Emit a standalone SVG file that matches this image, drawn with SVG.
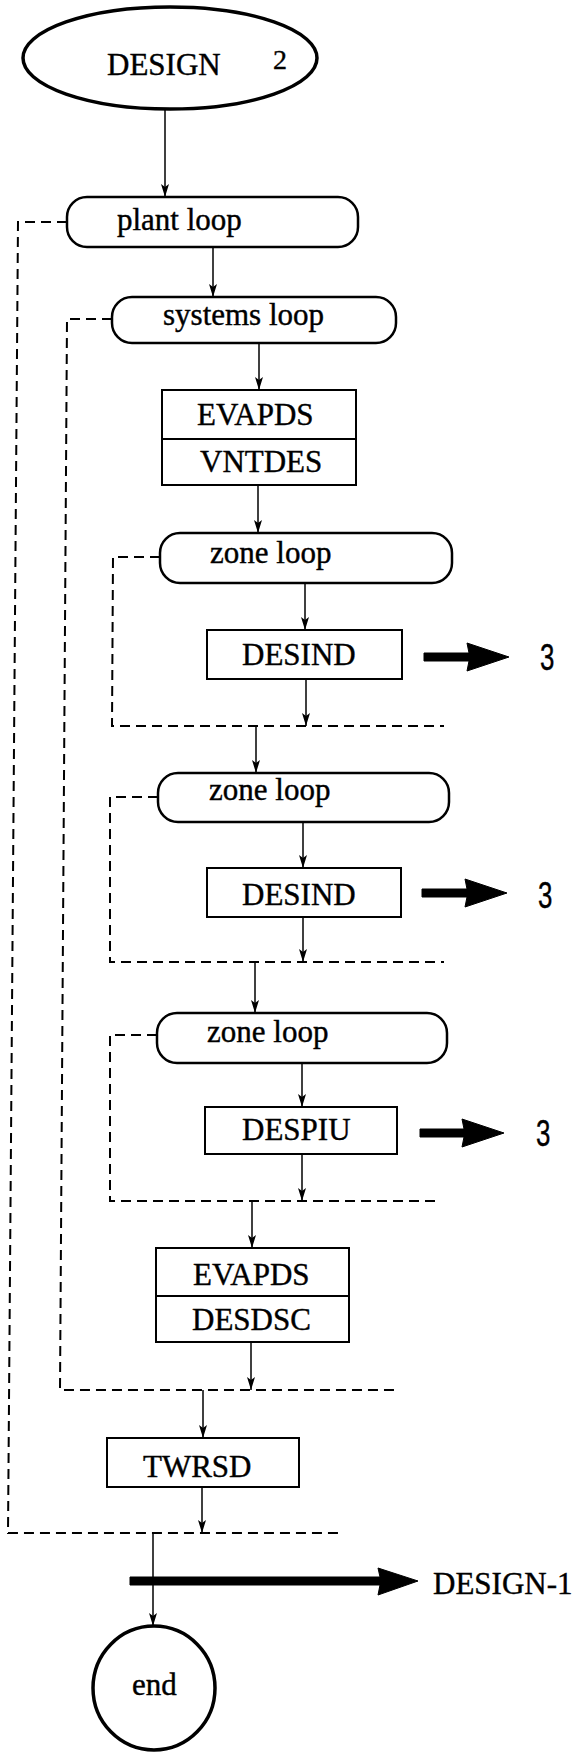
<svg xmlns="http://www.w3.org/2000/svg" width="584" height="1752" viewBox="0 0 584 1752">
<style>
  .t { font-family: "Liberation Serif", "Times New Roman", serif; font-size: 31px; fill: #000; stroke: #000; stroke-width: 0.4; }
  .n { font-family: "Liberation Sans", Arial, sans-serif; font-size: 37px; fill: #000; stroke: #000; stroke-width: 0.4; }
  .box { fill: #fff; stroke: #000; stroke-width: 2; }
  .loop { fill: #fff; stroke: #000; stroke-width: 2.5; }
  .term { fill: #fff; stroke: #000; stroke-width: 3.5; }
  .ln { fill: none; stroke: #000; stroke-width: 1.5; marker-end: url(#ah); }
  .dash { fill: none; stroke: #000; stroke-width: 2; stroke-dasharray: 10 6; }
  .fat { fill: #000; stroke: #000; stroke-width: 1; stroke-linejoin: round; }
</style>
<defs>
  <marker id="ah" markerUnits="userSpaceOnUse" markerWidth="14" markerHeight="10" refX="13" refY="4" orient="auto">
    <path d="M0,0 L13,4 L0,8 L3,4 z" fill="#000"/>
  </marker>
</defs>
<rect x="0" y="0" width="584" height="1752" fill="#fff"/>

<g id="connectors">
  <path class="dash" d="M67,222 L18,222 L8,1533 L342,1533"/>
  <path class="dash" d="M112,319 L67,319 L60,1390 L397,1390"/>
  <path class="dash" d="M160,557 L113,557 L112,726 L444,726"/>
  <path class="dash" d="M158,797 L110,797 L110,962 L444,962"/>
  <path class="dash" d="M157,1035 L110,1035 L110,1201 L441,1201"/>
  <line class="ln" x1="165" y1="110" x2="165" y2="197"/>
  <line class="ln" x1="213" y1="247" x2="213" y2="297"/>
  <line class="ln" x1="259" y1="343" x2="259" y2="390"/>
  <line class="ln" x1="258" y1="485" x2="258" y2="533"/>
  <line class="ln" x1="305" y1="583" x2="305" y2="630"/>
  <line class="ln" x1="306" y1="679" x2="306" y2="726"/>
  <line class="ln" x1="256" y1="726" x2="256" y2="773"/>
  <line class="ln" x1="303" y1="822" x2="303" y2="868"/>
  <line class="ln" x1="303" y1="917" x2="303" y2="962"/>
  <line class="ln" x1="255" y1="962" x2="255" y2="1013"/>
  <line class="ln" x1="302" y1="1062" x2="302" y2="1107"/>
  <line class="ln" x1="302" y1="1154" x2="302" y2="1201"/>
  <line class="ln" x1="252" y1="1201" x2="252" y2="1248"/>
  <line class="ln" x1="251" y1="1342" x2="251" y2="1390"/>
  <line class="ln" x1="203" y1="1390" x2="203" y2="1438"/>
  <line class="ln" x1="202" y1="1487" x2="202" y2="1533"/>
  <line class="ln" x1="153" y1="1533" x2="153" y2="1626"/>
  <path class="fat" d="M424,653 L469,653 L467,643 L509,657 L467,671 L469,661 L424,661 z"/>
  <path class="fat" d="M422,889 L467,889 L465,879 L507,893 L465,907 L467,897 L422,897 z"/>
  <path class="fat" d="M420,1129 L464,1129 L462,1119 L504,1133 L462,1147 L464,1137 L420,1137 z"/>
  <path class="fat" d="M130,1577 L380,1577 L378,1568 L418,1581 L378,1595 L380,1585 L130,1585 z"/>
</g>

<g id="design">
  <ellipse class="term" cx="170" cy="58" rx="147" ry="51"/>
  <text class="t" x="107" y="75">DESIGN</text>
  <text class="t" x="273" y="69" style="font-size:28px">2</text>
</g>
<g id="plant-loop">
  <rect class="loop" x="67" y="197" width="291" height="50" rx="20"/>
  <text class="t" x="117" y="230">plant loop</text>
</g>
<g id="systems-loop">
  <rect class="loop" x="112" y="297" width="284" height="46" rx="20"/>
  <text class="t" x="163" y="325">systems loop</text>
</g>
<g id="evapds-vntdes">
  <rect class="box" x="162" y="390" width="194" height="95"/>
  <line x1="162" y1="439" x2="356" y2="439" stroke="#000" stroke-width="2"/>
  <text class="t" x="197" y="425">EVAPDS</text>
  <text class="t" x="200" y="472">VNTDES</text>
</g>
<g id="zone-loop-1">
  <rect class="loop" x="160" y="533" width="292" height="50" rx="20"/>
  <text class="t" x="210" y="563">zone loop</text>
</g>
<g id="desind-1">
  <rect class="box" x="207" y="630" width="195" height="49"/>
  <text class="t" x="242" y="665">DESIND</text>
</g>
<g id="ref-3a">
  <text class="n" transform="translate(540,670) scale(0.7,1)">3</text>
</g>
<g id="zone-loop-2">
  <rect class="loop" x="158" y="773" width="291" height="49" rx="20"/>
  <text class="t" x="209" y="800">zone loop</text>
</g>
<g id="desind-2">
  <rect class="box" x="207" y="868" width="194" height="49"/>
  <text class="t" x="242" y="905">DESIND</text>
</g>
<g id="ref-3b">
  <text class="n" transform="translate(538,908) scale(0.7,1)">3</text>
</g>
<g id="zone-loop-3">
  <rect class="loop" x="157" y="1013" width="290" height="50" rx="20"/>
  <text class="t" x="207" y="1042">zone loop</text>
</g>
<g id="despiu">
  <rect class="box" x="205" y="1107" width="192" height="47"/>
  <text class="t" x="242" y="1140">DESPIU</text>
</g>
<g id="ref-3c">
  <text class="n" transform="translate(536,1146) scale(0.7,1)">3</text>
</g>
<g id="evapds-desdsc">
  <rect class="box" x="156" y="1248" width="193" height="94"/>
  <line x1="156" y1="1296" x2="349" y2="1296" stroke="#000" stroke-width="2"/>
  <text class="t" x="193" y="1285">EVAPDS</text>
  <text class="t" x="192" y="1330">DESDSC</text>
</g>
<g id="twrsd">
  <rect class="box" x="107" y="1438" width="192" height="49"/>
  <text class="t" x="143" y="1477">TWRSD</text>
</g>
<g id="design-1">
  <text class="t" x="433" y="1594">DESIGN-1</text>
</g>
<g id="end">
  <ellipse class="term" cx="154" cy="1688" rx="61" ry="62"/>
  <text class="t" x="132" y="1695">end</text>
</g>
</svg>
